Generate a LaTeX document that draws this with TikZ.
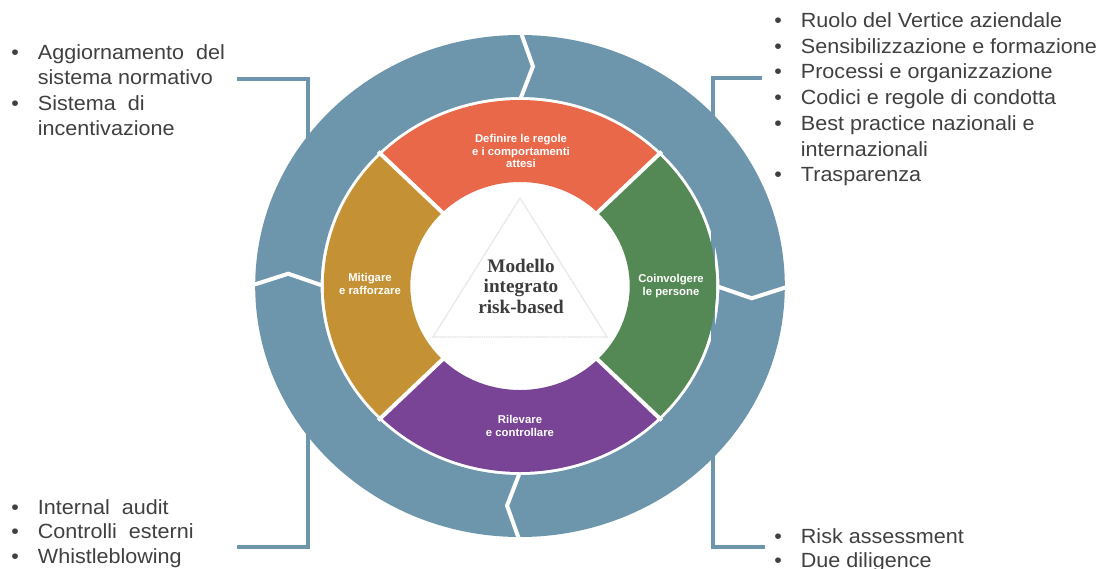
\documentclass[tikz,border=0pt]{standalone}
\usepackage{fontspec}
\setmainfont{Liberation Sans}
\newfontfamily\bodyfont[FakeStretch=1.05]{Liberation Sans}
\newfontfamily\segfont{Liberation Sans}
\newfontfamily\centerfont{Liberation Serif}
\definecolor{ringblue}{HTML}{6D96AC}
\definecolor{segred}{HTML}{E9684A}
\definecolor{seggreen}{HTML}{548956}
\definecolor{segpurple}{HTML}{794496}
\definecolor{segochre}{HTML}{C49234}
\definecolor{txtgray}{HTML}{404040}
\definecolor{centergray}{HTML}{3C3C3C}
\newcommand\bitem{\makebox[20pt][l]{•}}
\newcommand\bcont{\hspace*{20pt}}
\begin{document}
\begin{tikzpicture}[x=0.75pt,y=0.75pt,
  bracket/.style={draw=ringblue, line width=2.4pt},
  gapline/.style={draw=white, line width=3pt, line join=miter},
  bullets/.style={anchor=base west, inner sep=0pt, text=txtgray},
  seglabel/.style={text=white, align=center, inner sep=0pt,
    font=\segfont\bfseries\fontsize{8.5}{9.6}\selectfont},
  centerlabel/.style={text=centergray, align=center, inner sep=0pt,
    font=\centerfont\bfseries\fontsize{14.4}{15.4}\selectfont},
]
\useasboundingbox (0,0) rectangle (1109,-568);

% brackets (behind the ring)
\coordinate (lb1) at (237,-79);
\coordinate (lb2) at (308,-79);
\coordinate (lb3) at (308,-547);
\coordinate (lb4) at (237,-547);
\coordinate (rb1) at (762,-78);
\coordinate (rb2) at (713,-78);
\coordinate (rb3) at (713,-547);
\coordinate (rb4) at (765,-547);
\draw[bracket] (lb1) -- (lb2) -- (lb3) -- (lb4);
\draw[bracket] (rb1) -- (rb2) -- (rb3) -- (rb4);

\begin{scope}[shift={(520,-286)}, xscale=1.055]
  \fill[ringblue, even odd rule] (0,0) circle[radius=251] (0,0) circle[radius=189];
  \foreach \a in {90,0,270,180}
    \draw[gapline] (\a:256) -- ({\a-3.2}:220) -- (\a:186);
  \foreach \a/\c in {45/segred,-45/seggreen,225/segpurple,135/segochre}
    \fill[\c] (\a:186) arc[start angle=\a, delta angle=90, radius=186]
      -- ({\a+90}:104) arc[start angle={\a+90}, delta angle=-90, radius=104] -- cycle;
  \foreach \a in {45,135,225,315}
    \draw[gapline] (\a:100) -- (\a:190);
\end{scope}

% faint triangle
\coordinate (t1) at (520,-198);
\coordinate (t2) at (607,-337);
\coordinate (t3) at (433,-337);
\draw[black!11, line width=1pt, dash pattern=on 1.2pt off 0.5pt] (t1) -- (t2) -- (t3) -- cycle;

% centre and segment labels
\node[centerlabel] (centre) at (521,-286) {Modello\\integrato\\risk-based};
\node[seglabel] (definire) at (521,-151) {Definire le regole\\e i comportamenti\\attesi};
\node[seglabel] (coinvolgere) at (671,-286) {Coinvolgere\\le persone};
\node[seglabel] (mitigare) at (370,-284) {Mitigare\\e rafforzare};
\node[seglabel] (rilevare) at (520,-426) {Rilevare\\e controllare};

% bullet lists
\node[bullets, font=\bodyfont\fontsize{15.4}{19}\selectfont] (lefttop) at (11,-59.5)
  {\begin{tabular}[t]{@{}l@{}}
   \bitem Aggiornamento\ \ del\\
   \bcont sistema normativo\\
   \bitem Sistema\ \ di\\
   \bcont incentivazione
   \end{tabular}};
\node[bullets, font=\bodyfont\fontsize{15.4}{19.3}\selectfont] (righttop) at (774,-27.5)
  {\begin{tabular}[t]{@{}l@{}}
   \bitem Ruolo del Vertice aziendale\\
   \bitem Sensibilizzazione e formazione\\
   \bitem Processi e organizzazione\\
   \bitem Codici e regole di condotta\\
   \bitem Best practice nazionali e\\
   \bcont internazionali\\
   \bitem Trasparenza
   \end{tabular}};
\node[bullets, font=\bodyfont\fontsize{15.4}{18.4}\selectfont] (leftbottom) at (11,-514)
  {\begin{tabular}[t]{@{}l@{}}
   \bitem Internal\ \ audit\\
   \bitem Controlli\ \ esterni\\
   \bitem Whistleblowing
   \end{tabular}};
\node[bullets, font=\bodyfont\fontsize{15.4}{18.4}\selectfont] (rightbottom) at (774,-543)
  {\begin{tabular}[t]{@{}l@{}}
   \bitem Risk assessment\\
   \bitem Due diligence
   \end{tabular}};
\end{tikzpicture}
\end{document}
